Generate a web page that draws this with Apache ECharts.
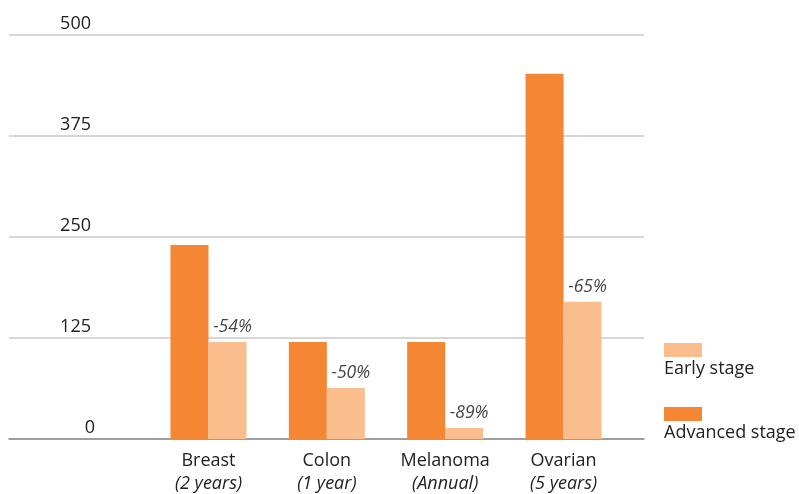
<!DOCTYPE html>
<html>
<head>
<meta charset="utf-8">
<script src="https://cdn.jsdelivr.net/npm/echarts@6/dist/echarts.min.js"></script>
<style>
  html, body { margin: 0; padding: 0; background: #fff; }
  #chart { width: 799px; height: 494px; }
</style>
</head>
<body>
<div id="chart"></div>
<script>
// Screening cost per cancer type: advanced vs early stage
const categories = ['Breast', 'Colon', 'Melanoma', 'Ovarian'];
const periods = ['2 years', '1 year', 'Annual', '5 years'];
const advancedStage = [240, 120, 120, 452];
const earlyStage = [120, 63, 13.5, 170];
const changeLabels = ['-54%', '-50%', '-89%', '-65%'];
const yTicks = [0, 125, 250, 375, 500];
const seriesNames = ['Advanced stage', 'Early stage'];

const ADV_COLOR = '#f58634';
const EARLY_COLOR = '#f9bd8e';
const FONT = 'Open Sans';
const TEXT = '#222';

const chart = echarts.init(document.getElementById('chart'), null, { renderer: 'canvas' });

const option = {
  animation: false,
  textStyle: { fontFamily: FONT },
  grid: [
    // full-width grid carrying the horizontal rules and value labels
    { left: 9, right: 155, top: 35, bottom: 55 },
    // narrower grid holding the bar groups
    { left: 149.3, right: 176.3, top: 35, bottom: 55 }
  ],
  xAxis: [
    {
      gridIndex: 0, type: 'value', min: 0, max: 1,
      axisLine: { show: true, onZero: false, lineStyle: { color: '#8c8c8c', width: 1.5 } },
      axisTick: { show: false }, axisLabel: { show: false }, splitLine: { show: false }
    },
    {
      gridIndex: 1, type: 'category', data: categories,
      axisLine: { show: false }, axisTick: { show: false },
      axisLabel: {
        margin: 10,
        interval: 0,
        formatter: (v, i) => '{b|' + v + '}\n{i|(' + periods[i] + ')}',
        rich: {
          b: { fontFamily: FONT, fontSize: 18, color: TEXT, lineHeight: 23 },
          i: { fontFamily: FONT, fontSize: 18, fontStyle: 'italic', color: TEXT, lineHeight: 23 }
        }
      }
    }
  ],
  yAxis: [
    {
      gridIndex: 0, type: 'value', min: yTicks[0], max: yTicks[yTicks.length - 1], interval: 125,
      axisLine: { show: false }, axisTick: { show: false },
      splitLine: { show: true, lineStyle: { color: '#c8c8c8', width: 1.5 } },
      axisLabel: {
        inside: true,
        margin: 86,
        align: 'right',
        verticalAlign: 'bottom',
        formatter: v => v === 0 ? '{z|0}' : '{n|' + v + '}',
        rich: {
          n: { fontFamily: FONT, fontSize: 18, color: TEXT, lineHeight: 18, padding: [0, 4, 4, 0] },
          z: { fontFamily: FONT, fontSize: 18, color: TEXT, lineHeight: 18, padding: [0, 0, 4, 0] }
        }
      }
    },
    {
      gridIndex: 1, type: 'value', min: 0, max: 500, interval: 125,
      show: false, splitLine: { show: false }
    }
  ],
  series: [
    {
      name: seriesNames[0], type: 'bar', xAxisIndex: 1, yAxisIndex: 1,
      data: advancedStage, barWidth: 38, barGap: '0%',
      itemStyle: { color: ADV_COLOR }
    },
    {
      name: seriesNames[1], type: 'bar', xAxisIndex: 1, yAxisIndex: 1,
      data: earlyStage, barWidth: 38, barGap: '0%',
      itemStyle: { color: EARLY_COLOR },
      label: {
        show: true, position: 'top', distance: 6, offset: [5, 0],
        formatter: p => changeLabels[p.dataIndex],
        fontFamily: FONT, fontSize: 17.5, fontStyle: 'italic', color: '#444'
      }
    }
  ],
  graphic: [
    { type: 'rect', left: 664, top: 343, shape: { width: 38, height: 14 }, style: { fill: EARLY_COLOR } },
    { type: 'text', left: 664, top: 360, style: { text: seriesNames[1], fill: TEXT, font: '18px "Open Sans"' } },
    { type: 'rect', left: 664, top: 407, shape: { width: 38, height: 14 }, style: { fill: ADV_COLOR } },
    { type: 'text', left: 664, top: 424, style: { text: seriesNames[0], fill: TEXT, font: '18px "Open Sans"' } }
  ]
};

chart.setOption(option);
</script>
</body>
</html>
